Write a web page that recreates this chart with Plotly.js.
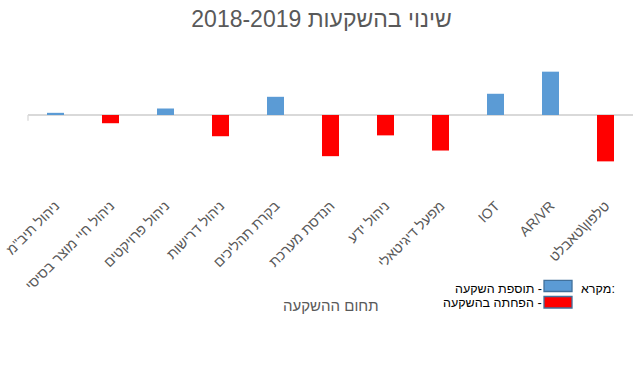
<!DOCTYPE html>
<html>
<head>
<meta charset="utf-8">
<script src="https://cdn.plot.ly/plotly-3.0.1.min.js"></script>
<style>html,body{margin:0;padding:0;background:#fff;}#chart{width:643px;height:390px;}</style>
</head>
<body>
<div id="chart"></div>
<script>
// Data
var categories = [
  'ניהול תיב"מ',
  'ניהול חיי מוצר בסיסי',
  'ניהול פרויקטים',
  'ניהול דרישות',
  'בקרת תהליכים',
  'הנדסת מערכת',
  'ניהול ידע',
  'מפעל דיגיטאלי',
  'IOT',
  'AR/VR',
  'טלפון\\טאבלט'
];
var changeValues = [0.5, -1.9, 1.5, -4.9, 4.2, -9.5, -4.7, -8.2, 4.9, 10, -10.7];
var legendLabels = ['תוספת השקעה -', 'הפחתה בהשקעה -'];
var legendHeader = 'מקרא:';
var chartTitle = '2018-2019 שינוי בהשקעות';
var axisTitle = 'תחום ההשקעה';

var BLUE = '#5b9bd5', RED = '#ff0000';
var colors = changeValues.map(function (v) { return v >= 0 ? BLUE : RED; });

var FONT = 'Liberation Sans, Arial, DejaVu Sans, sans-serif';

var trace = {
  type: 'bar',
  x: categories,
  y: changeValues,
  marker: { color: colors, line: { width: 0 } },
  hoverinfo: 'x+y',
  showlegend: false
};

var layout = {
  width: 643,
  height: 390,
  margin: { l: 28, r: 10, t: 63, b: 223 },
  paper_bgcolor: '#ffffff',
  plot_bgcolor: '#ffffff',
  bargap: 0.69,
  font: { family: FONT, color: '#595959' },
  title: {
    text: chartTitle,
    font: { size: 23, color: '#595959', family: FONT },
    x: 0.5, xref: 'container', xanchor: 'center',
    y: 0.951, yref: 'container', yanchor: 'middle'
  },
  xaxis: {
    type: 'category',
    tickangle: -45,
    tickfont: { size: 14, color: '#595959', family: FONT },
    showgrid: false,
    showline: false,
    ticks: '',
    ticklabelstandoff: 27,
    fixedrange: true
  },
  yaxis: {
    range: [-12, 12],
    showgrid: false,
    showticklabels: false,
    showline: false,
    zeroline: true,
    zerolinecolor: '#d9d9d9',
    zerolinewidth: 1.3,
    ticks: '',
    fixedrange: true
  },
  shapes: [
    { type: 'line', xref: 'paper', yref: 'y', x0: 0, x1: 0, y0: 0, y1: -1.3,
      line: { color: '#d9d9d9', width: 1.3 } },
    { type: 'rect', xref: 'paper', yref: 'paper', x0: 0.8529, x1: 0.8992, y0: -1.091, y1: -1.197,
      fillcolor: BLUE, line: { color: '#41719c', width: 1.3 } },
    { type: 'rect', xref: 'paper', yref: 'paper', x0: 0.8529, x1: 0.8992, y0: -1.245, y1: -1.356,
      fillcolor: RED, line: { color: '#41719c', width: 1.3 } }
  ],
  annotations: [
    { text: legendLabels[0], xref: 'paper', yref: 'paper', x: 0.853, y: -1.175,
      xanchor: 'right', yanchor: 'middle', showarrow: false,
      font: { size: 12.5, color: '#000000', family: FONT } },
    { text: legendLabels[1], xref: 'paper', yref: 'paper', x: 0.853, y: -1.305,
      xanchor: 'right', yanchor: 'middle', showarrow: false,
      font: { size: 12.5, color: '#000000', family: FONT } },
    { text: legendHeader, xref: 'paper', yref: 'paper', x: 0.91, y: -1.175,
      xanchor: 'left', yanchor: 'middle', showarrow: false,
      font: { size: 12.5, color: '#000000', family: FONT } },
    { text: axisTitle, xref: 'paper', yref: 'paper', x: 0.5, y: -1.327,
      xanchor: 'center', yanchor: 'middle', showarrow: false,
      font: { size: 15, color: '#595959', family: FONT } }
  ]
};

Plotly.newPlot('chart', [trace], layout, { displayModeBar: false, staticPlot: true });
</script>
</body>
</html>
